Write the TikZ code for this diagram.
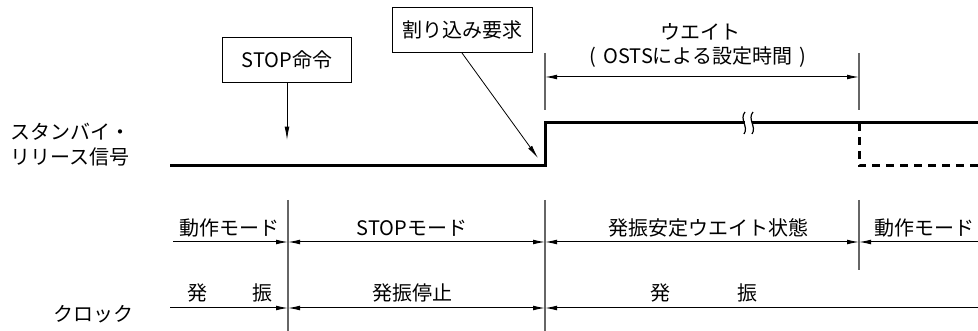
\documentclass[tikz,border=0pt]{standalone}
\usepackage{fontspec}
\setmainfont{Noto Sans CJK JP}
\usetikzlibrary{arrows.meta}

\tikzset{
  lbl/.style={font=\fontsize{15pt}{18pt}\selectfont, inner sep=0pt},
  cmdbox/.style={draw, line width=0.75pt, lbl, minimum height=33.75pt},
  sig/.style={line width=2.25pt},
  sigdash/.style={line width=2.25pt, dash pattern=on 6pt off 4.5pt},
  tickline/.style={draw=black!60, line width=1pt},
  dimtip/.tip={Latex[length=9pt,width=3.6pt]},
  dimboth/.style={line width=0.75pt, dimtip-dimtip},
  dimend/.style={line width=0.75pt, -dimtip},
  ptr/.style={line width=0.6pt, -{Latex[length=10pt,width=3.6pt]}},
}

\begin{document}
\begin{tikzpicture}[x=0.75pt, y=-0.75pt]
\useasboundingbox (0,0) rectangle (978,331);

% signal
\coordinate (s0) at (170,166);
\coordinate (s1) at (545,166);
\coordinate (s2) at (545,123);
\coordinate (brk0) at (745,123);
\coordinate (brk1) at (752,123);
\coordinate (s3) at (978,123);
\coordinate (d0) at (859,123);
\coordinate (d1) at (859,166);
\coordinate (d2) at (978,166);

\node[lbl, anchor=west] (sblbl1) at (10,132) {スタンバイ・};
\node[lbl, anchor=west] (sblbl2) at (10,157) {リリース信号};

\draw[sig] (s0) -- (s1) -- (s2) -- (brk0);
\draw[sig] (brk1) -- (s3);
\draw[line width=0.9pt] (745,112) .. controls (739,119) and (749,127) .. (744,134);
\draw[line width=0.9pt] (753,112) .. controls (747,119) and (757,127) .. (752,134);
\draw[sigdash] (d0) -- (d1) -- (d2);

% commands
\node[cmdbox, minimum width=96.75pt] (stopcmd) at (287,60) {STOP命令};
\coordinate (stoptip) at (287,140);
\draw[ptr] (stopcmd.south) -- (stoptip);

\node[cmdbox, minimum width=105pt] (irq) at (462,30) {割り込み要求};
\coordinate (irqtip) at (538,158);
\draw[ptr] (irq.south) -- (irqtip);

% wait
\draw[tickline] (545,53) -- (545,110);
\draw[tickline] (859,53) -- (859,110);
\coordinate (w0) at (545,77);
\coordinate (w1) at (859,77);
\draw[dimboth] (w0) -- (w1);
\node[lbl] (waitlbl) at (700,32) {ウエイト};
\node[lbl] (waitsub) at (698,57) {(\hspace{0.35em}OSTSによる設定時間\hspace{0.35em})};

% mode
\draw[tickline] (288,200) -- (288,331);
\draw[tickline] (545,200) -- (545,331);
\draw[tickline] (859,200) -- (859,270);

\coordinate (m0) at (173,242);
\coordinate (m1) at (288,242);
\coordinate (m2) at (545,242);
\coordinate (m3) at (859,242);
\coordinate (m4) at (978,242);
\draw[dimend] (m0) -- (m1);
\draw[dimboth] (m1) -- (m2);
\draw[dimboth] (m2) -- (m3);
\draw[dimend] (m4) -- (m3);

\node[lbl] (mode1) at (229,228) {動作モード};
\node[lbl] (mode2) at (412,228) {STOPモード};
\node[lbl] (mode3) at (708,228) {発振安定ウエイト状態};
\node[lbl] (mode4) at (924,228) {動作モード};

% clock
\node[lbl] (clklbl) at (93,314) {クロック};
\coordinate (c0) at (170,308);
\coordinate (c1) at (288,308);
\coordinate (c2) at (545,308);
\coordinate (c3) at (978,308);
\draw[dimend] (c0) -- (c1);
\draw[dimboth] (c1) -- (c2);
\draw[dimend] (c3) -- (c2);

\node[lbl] (osc1a) at (197,293) {発};
\node[lbl] (osc1b) at (262,293) {振};
\node[lbl] (oscstop) at (412,293) {発振停止};
\node[lbl] (osc2a) at (660,293) {発};
\node[lbl] (osc2b) at (747,293) {振};

\end{tikzpicture}
\end{document}
